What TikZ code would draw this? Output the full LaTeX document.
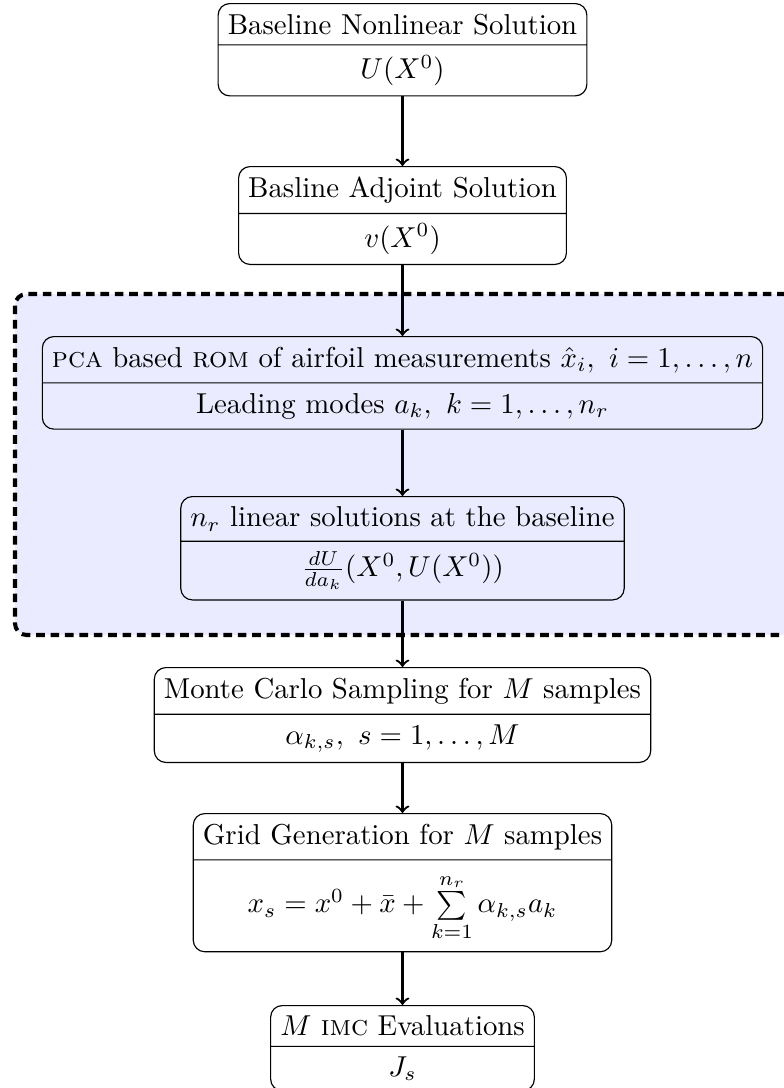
\documentclass[tikz,border=0pt]{standalone}
\usetikzlibrary{shapes.multipart}
\tikzset{
  blk/.style={rectangle split, rectangle split parts=2, draw, rounded corners, align=center, anchor=north},
  flow/.style={->, thick},
  region/.style={draw, densely dashed, line width=1.4pt, fill=blue!8, rounded corners}
}
\begin{document}
\begin{tikzpicture}[x=0.34722pt, y=-0.34722pt]
\useasboundingbox (0,0) rectangle (784,1088);
\clip (0,0) rectangle (784,1088);
\path[region] (15,294) rectangle (800,635);
\node[blk] (b1) at (402.5,3) {Baseline Nonlinear Solution \nodepart{two} $U(X^0)$};
\node[blk] (b2) at (402.5,166) {Basline Adjoint Solution \nodepart{two} $v(X^0)$};
\node[blk] (pca) at (402.5,336) {\textsc{pca} based \textsc{rom} of airfoil measurements $\hat{x}_i,\ i=1,\ldots,n$ \nodepart{two} Leading modes $a_k,\ k=1,\ldots,n_r$};
\node[blk] (lin) at (402.5,496) {$n_r$ linear solutions at the baseline \nodepart{two} $\frac{dU}{da_k}(X^0,U(X^0))$};
\node[blk] (mc) at (402.5,667) {Monte Carlo Sampling for $M$ samples \nodepart{two} $\alpha_{k,s},\ s=1,\ldots,M$};
\node[blk] (grid) at (402.5,813) {Grid Generation for $M$ samples \nodepart{two} \raisebox{0pt}[\dimexpr\height+1.2pt][\depth]{$x_s=x^0+\bar{x}+\sum\limits_{k=1}^{n_r}\alpha_{k,s}a_k$}};
\node[blk] (imc) at (402.5,1005) {$M$ \textsc{imc} Evaluations \nodepart{two} $J_s$};
\draw[flow] (b1.south) -- (b2.north);
\draw[flow] (b2.south) -- (pca.north);
\draw[flow] (pca.south) -- (lin.north);
\draw[flow] (lin.south) -- (mc.north);
\draw[flow] (mc.south) -- (grid.north);
\draw[flow] (grid.south) -- (imc.north);
\end{tikzpicture}
\end{document}
